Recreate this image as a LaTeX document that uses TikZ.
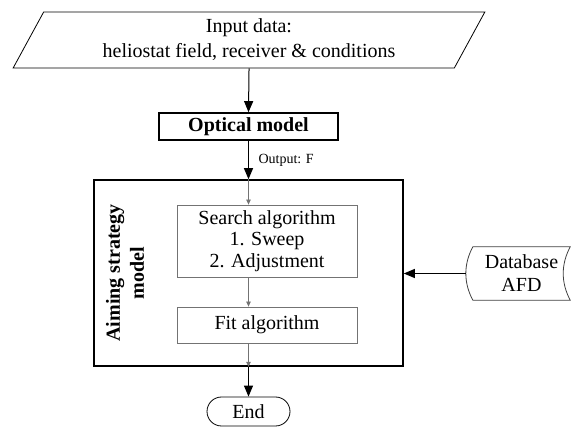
\documentclass[tikz,border=0pt]{standalone}
\usepackage{fontspec}
\setmainfont{Liberation Serif}
\usepackage{tikz}
\usetikzlibrary{shapes.geometric,shapes.misc,arrows.meta}

\begin{document}
\begin{tikzpicture}[x=1pt,y=1pt]
\tikzstyle{every node}+=[inner sep=0pt,font=\fontsize{20}{24}\selectfont]
\tikzstyle{thickbox}=[draw=black,line width=1.6pt,rectangle]
\tikzstyle{thinbox}=[draw=black!55,line width=0.8pt,rectangle]
\tikzstyle{bigarrow}=[draw=black,line width=1pt,-{Triangle[length=11pt,width=9pt]}]
\tikzstyle{smallarrow}=[draw=black!55,line width=0.8pt,-{Triangle[length=5pt,width=4.5pt]}]
\useasboundingbox (0,0) rectangle (571,-427);
\node [trapezium,draw,line width=0.8pt,trapezium left angle=62.6,trapezium right angle=117.4,trapezium stretches=true,minimum width=474pt,minimum height=56pt,align=center,font=\fontsize{20}{25}\selectfont] (input) at (249,-40) {Input data:\\heliostat field, receiver \& conditions};
\node [thickbox,minimum width=179pt,minimum height=27pt,font=\fontsize{20}{24}\selectfont\bfseries] (optical) at (248.5,-126.5) {Optical model};
\node [thickbox,minimum width=309pt,minimum height=186pt] (aiming) at (248.5,-273) {};
\node [rotate=90,align=center,font=\fontsize{20}{24}\selectfont\bfseries] (aimlabel) at (125,-273) {Aiming strategy\\model};
\node [thinbox,minimum width=180pt,minimum height=72pt,align=center,font=\fontsize{20}{21.5}\selectfont] (search) at (267,-241) {Search algorithm\\1. Sweep\\2. Adjustment};
\node [thinbox,minimum width=180pt,minimum height=36pt] (fit) at (267,-325) {Fit algorithm};
\node [rounded rectangle,draw,line width=0.8pt,minimum width=83pt,minimum height=29pt] (end) at (248.5,-411.5) {End};
\node [minimum width=97pt,minimum height=53pt,align=center,font=\fontsize{20}{23}\selectfont] (db) at (521.5,-273.5) {Database\\AFD};
\draw [black!75,line width=0.8pt] (db.north west) .. controls +(-9.3,-17.7) and +(-9.3,17.7) .. (db.south west) -- (db.south east) .. controls +(-9.3,17.7) and +(-9.3,-17.7) .. (db.north east) -- cycle;
\draw [bigarrow] (input.south) -- (optical.north);
\draw [bigarrow] (optical.south) -- (aiming.north) node [midway,right=9.5pt,font=\fontsize{14}{16}\selectfont] (output) {Output: F};
\draw [smallarrow] (aiming.north) -- (aiming.north |- search.north);
\draw [smallarrow] (search.south -| aiming.north) -- (fit.north -| aiming.north);
\draw [smallarrow] (fit.south -| aiming.north) -- (aiming.south);
\draw [bigarrow] (aiming.south) -- (end.north);
\draw [bigarrow] ([xshift=-7pt]db.west) -- (db.west -| aiming.east);
\end{tikzpicture}
\end{document}
